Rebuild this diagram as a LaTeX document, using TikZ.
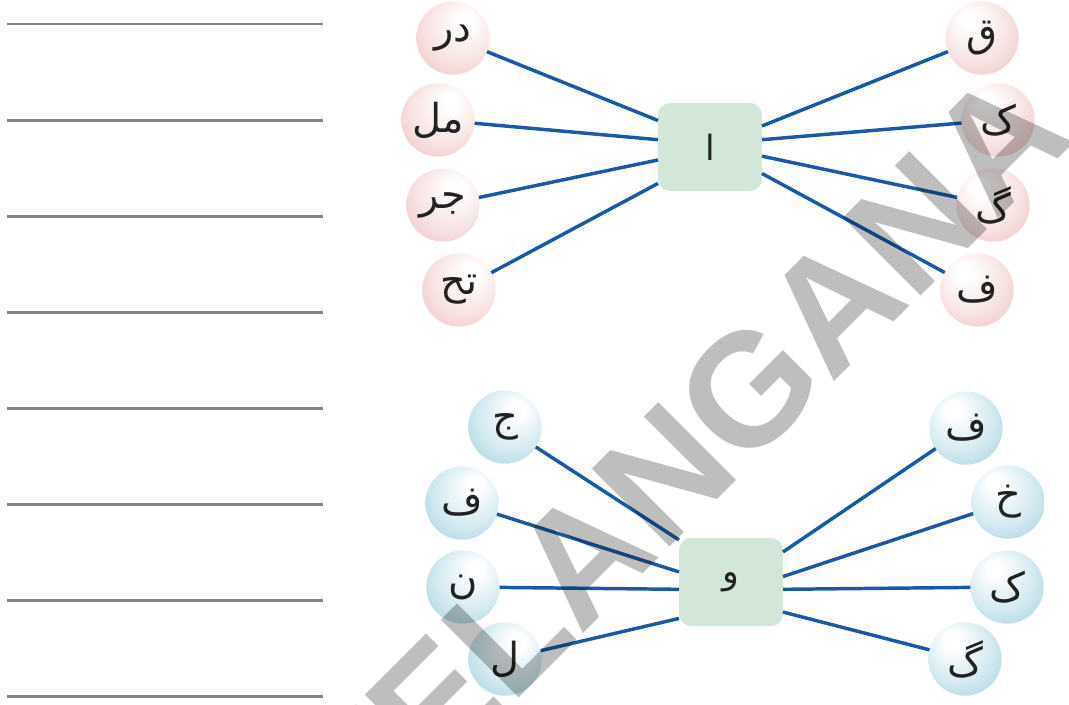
\documentclass[tikz,border=0pt]{standalone}
\usepackage{fontspec}
\newfontfamily\urdu[Script=Arabic]{DejaVu Sans}
\newfontfamily\wmfont{Liberation Sans}
\TeXXeTstate=1
\usetikzlibrary{calc}
\definecolor{linkblue}{RGB}{24,90,168}
\definecolor{boxgreen}{RGB}{210,231,215}
\definecolor{rulegray}{RGB}{128,131,134}
\definecolor{pinkedge}{RGB}{237,192,192}
\definecolor{pinkmid}{RGB}{248,226,226}
\definecolor{blueedge}{RGB}{164,208,221}
\definecolor{bluemid}{RGB}{210,233,240}
\definecolor{wmgray}{RGB}{190,190,190}
\definecolor{glyph}{RGB}{34,34,34}
\pgfdeclareradialshading{pinkR}{\pgfpoint{10bp}{14bp}}{color(0bp)=(white); color(5bp)=(white); color(24bp)=(pinkmid); color(40bp)=(pinkedge); color(50bp)=(pinkedge)}
\pgfdeclareradialshading{pinkL}{\pgfpoint{-10bp}{14bp}}{color(0bp)=(white); color(5bp)=(white); color(24bp)=(pinkmid); color(40bp)=(pinkedge); color(50bp)=(pinkedge)}
\pgfdeclareradialshading{blueR}{\pgfpoint{10bp}{14bp}}{color(0bp)=(white); color(5bp)=(white); color(24bp)=(bluemid); color(40bp)=(blueedge); color(50bp)=(blueedge)}
\pgfdeclareradialshading{blueL}{\pgfpoint{-10bp}{14bp}}{color(0bp)=(white); color(5bp)=(white); color(24bp)=(bluemid); color(40bp)=(blueedge); color(50bp)=(blueedge)}
\tikzset{
  ball/.style={circle, minimum size=55pt, inner sep=0pt, outer sep=0pt, text=glyph,
    font=\urdu\fontsize{30}{34}\selectfont},
  pinkleft/.style={ball, shading=pinkR},
  pinkright/.style={ball, shading=pinkL},
  blueleft/.style={ball, shading=blueR},
  blueright/.style={ball, shading=blueL},
  hub/.style={rectangle, rounded corners=9pt, fill=boxgreen, minimum width=78pt,
    minimum height=66pt, inner sep=0pt, outer sep=0pt, text=glyph,
    font=\urdu\fontsize{26}{30}\selectfont},
  link/.style={draw=linkblue, line width=2.6pt},
  writeline/.style={draw=rulegray, line width=2.2pt},
}
\begin{document}
\begin{tikzpicture}[x=0.75pt, y=-0.75pt]
\path[use as bounding box] (0,0) rectangle (1069,704);
% writing lines
\foreach \i in {0,...,7} {
  \coordinate (ws\i) at (7,{24+96.1*\i});
  \coordinate (we\i) at (323,{24+96.1*\i});
  \draw[writeline] (ws\i) -- (we\i);
}
% top group
\node[hub] (A) at (710,147) {\beginR ا\endR};
\node[pinkleft] (tl1) at (453,38) {\beginR در\endR};
\node[pinkleft] (tl2) at (438,120) {\beginR مل\endR};
\node[pinkleft] (tl3) at (443,205) {\beginR جر\endR};
\node[pinkleft] (tl4) at (459,290) {\beginR تح\endR};
\node[pinkright] (tr1) at (982,38) {\beginR ق\endR};
\node[pinkright] (tr2) at (998,120) {\beginR ک\endR};
\node[pinkright] (tr3) at (993,205) {\beginR گ\endR};
\node[pinkright] (tr4) at (977,290) {\beginR ف\endR};
\draw[link] (tl1) -- (A.153);
\draw[link] (tl2) -- (A.172);
\draw[link] (tl3) -- (A.194);
\draw[link] (tl4) -- (A.215);
\draw[link] (A.22) -- (tr1);
\draw[link] (A.8) -- (tr2);
\draw[link] (A.-10) -- (tr3);
\draw[link] (A.-27) -- (tr4);
% bottom group
\node[hub] (B) at (731,582) {\beginR و\endR};
\node[blueleft] (bl1) at (505,427) {\beginR ج\endR};
\node[blueleft] (bl2) at (462,503) {\beginR ف\endR};
\node[blueleft] (bl3) at (463,587) {\beginR ن\endR};
\node[blueleft] (bl4) at (505,659) {\beginR ل\endR};
\node[blueright] (br1) at (966,428) {\beginR ف\endR};
\node[blueright] (br2) at (1008,502) {\beginR خ\endR};
\node[blueright] (br3) at (1007,587) {\beginR ک\endR};
\node[blueright] (br4) at (965,659) {\beginR گ\endR};
\draw[link] (bl1) -- (B.141);
\draw[link] (bl2) -- (B.169);
\draw[link] (bl3) -- (B.188);
\draw[link] (bl4) -- (B.215);
\draw[link] (B.30) -- (br1);
\draw[link] (B.6) -- (br2);
\draw[link] (B.-8) -- (br3);
\draw[link] (B.-30) -- (br4);
% watermark
\begin{scope}[blend mode=multiply]
\node[text=wmgray, rotate=45, inner sep=0pt,
  font=\wmfont\bfseries\fontsize{120}{120}\selectfont] (wm) at (683,456) {TELANGANA};
\end{scope}
\end{tikzpicture}
\end{document}
